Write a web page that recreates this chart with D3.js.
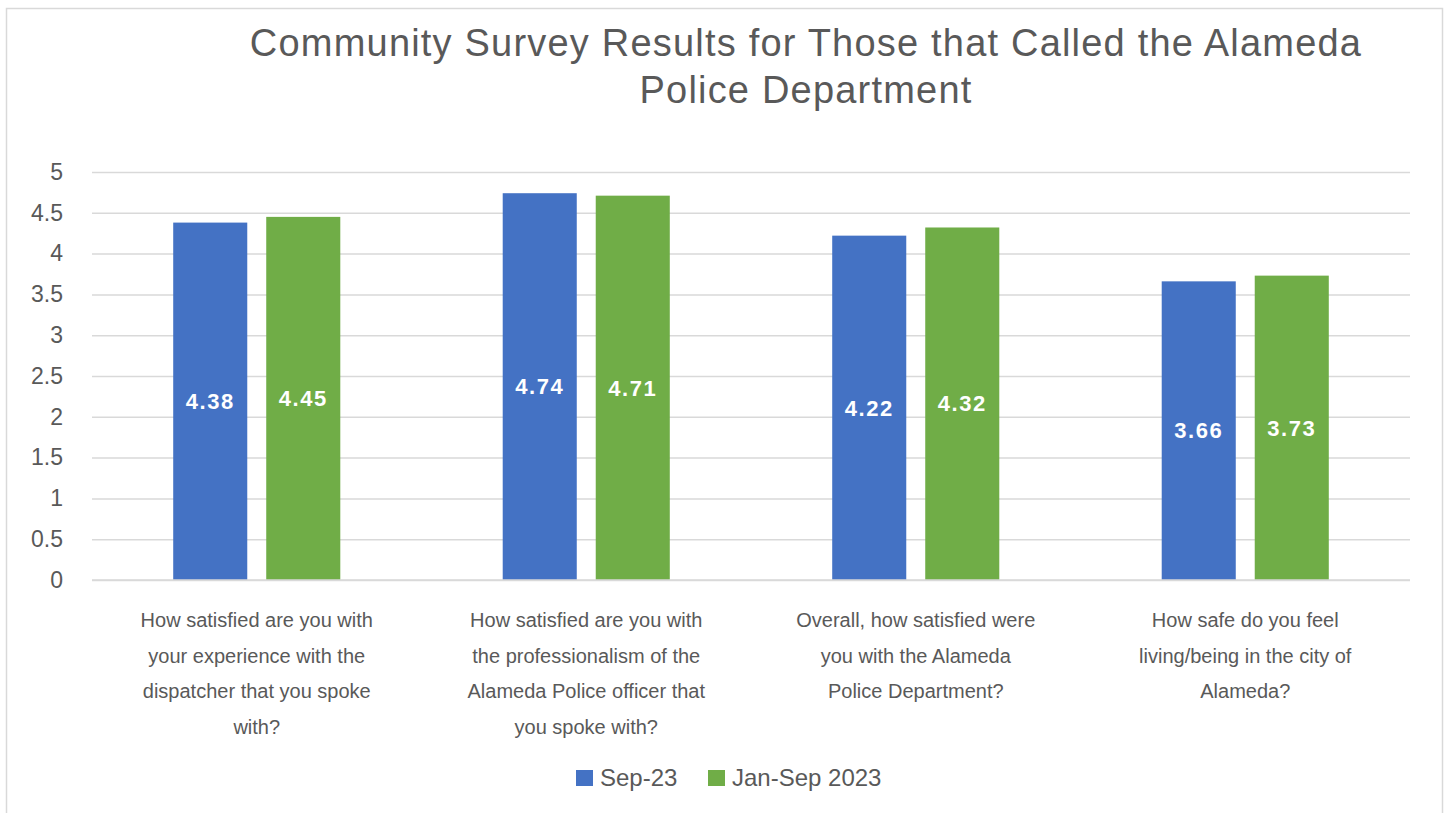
<!DOCTYPE html>
<head>
    <title>Community Survey Results</title>
    <meta charset="utf-8">
    <style>
        body { margin: 0; background: #fff; }
        svg text { font-family: "Liberation Sans", Arial, sans-serif; fill: #595959; }
    </style>
</head>
<body>
    <div id="chart"></div>
    <script src="https://d3js.org/d3.v7.min.js"></script>
    <script>
        // data
        var titleLines = ["Community Survey Results for Those that Called the Alameda", "Police Department"];
        var categories = ["q1", "q2", "q3", "q4"];
        var categoryLabels = [
            ["How satisfied are you with", "your experience with the", "dispatcher that you spoke", "with?"],
            ["How satisfied are you with", "the professionalism of the", "Alameda Police officer that", "you spoke with?"],
            ["Overall, how satisfied were", "you with the Alameda", "Police Department?"],
            ["How safe do you feel", "living/being in the city of", "Alameda?"]
        ];
        var seriesNames = ["Sep-23", "Jan-Sep 2023"];
        var sep23 = [4.38, 4.74, 4.22, 3.66];
        var janSep2023 = [4.45, 4.71, 4.32, 3.73];
        var yTicks = [0, 0.5, 1, 1.5, 2, 2.5, 3, 3.5, 4, 4.5, 5];
        var colors = ["#4472C4", "#70AD47"];

        var W = 1447, H = 813;
        var margin = {top: 172, right: 37, bottom: 233, left: 92},
            width = W - margin.left - margin.right,
            height = H - margin.top - margin.bottom;

        var svg = d3.select("#chart")
            .append("svg")
            .attr("width", W)
            .attr("height", H);

        // chart frame
        svg.append("rect")
            .attr("x", 6.5).attr("y", 8.5)
            .attr("width", 1436).attr("height", 820)
            .attr("fill", "none")
            .attr("stroke", "#D9D9D9")
            .attr("stroke-width", 1.5);

        // title
        svg.append("text")
            .attr("x", 806).attr("y", 56)
            .attr("text-anchor", "middle")
            .style("font-size", "38px")
            .style("letter-spacing", "1.2px")
            .selectAll("tspan")
            .data(titleLines)
            .enter()
            .append("tspan")
            .attr("x", 806)
            .attr("dy", (d, i) => i === 0 ? 0 : 47)
            .text(d => d);

        var g = svg.append("g")
            .attr("transform", "translate(" + margin.left + "," + margin.top + ")");

        var x0 = d3.scaleBand()
            .domain(categories)
            .range([0, width])
            .padding(0);

        var x1 = d3.scaleBand()
            .domain(seriesNames)
            .range([0, x0.bandwidth()])
            .paddingInner(0.204)
            .paddingOuter(0.873);

        var y = d3.scaleLinear()
            .domain([0, 5])
            .range([height, 0]);

        // gridlines
        g.append("g")
            .attr("class", "grid")
            .call(d3.axisLeft(y).tickValues(yTicks).tickSize(-width).tickFormat(""))
            .call(g => g.select(".domain").remove())
            .selectAll("line")
            .attr("stroke", "#D9D9D9")
            .attr("stroke-width", 1.5);

        // y axis labels
        var yAxis = g.append("g")
            .call(d3.axisLeft(y).tickValues(yTicks).tickSize(0).tickPadding(29).tickFormat(d3.format("")));
        yAxis.select(".domain").remove();
        yAxis.selectAll("text")
            .style("font-size", "23px")
            .attr("fill", "#595959");

        var rows = categories.map((c, i) => ({
            cat: c,
            values: [
                {series: seriesNames[0], value: sep23[i]},
                {series: seriesNames[1], value: janSep2023[i]}
            ]
        }));

        var groups = g.selectAll(".group")
            .data(rows)
            .enter()
            .append("g")
            .attr("class", "group")
            .attr("transform", d => "translate(" + x0(d.cat) + ",0)");

        groups.selectAll("rect")
            .data(d => d.values)
            .enter()
            .append("rect")
            .attr("x", d => x1(d.series))
            .attr("y", d => y(d.value))
            .attr("width", x1.bandwidth())
            .attr("height", d => height - y(d.value))
            .attr("fill", (d, i) => colors[i]);

        groups.selectAll(".val")
            .data(d => d.values)
            .enter()
            .append("text")
            .attr("class", "val")
            .attr("x", d => x1(d.series) + x1.bandwidth() / 2)
            .attr("y", d => (y(d.value) + height) / 2)
            .attr("dy", "0.35em")
            .attr("text-anchor", "middle")
            .style("font-size", "22px")
            .style("letter-spacing", "1.5px")
            .style("font-weight", "bold")
            .style("fill", "#fff")
            .text(d => d3.format(".2f")(d.value));

        // baseline
        g.append("line")
            .attr("x1", 0).attr("x2", width)
            .attr("y1", height).attr("y2", height)
            .attr("stroke", "#D9D9D9")
            .attr("stroke-width", 1.5);

        // category labels
        g.selectAll(".cat")
            .data(rows)
            .enter()
            .append("text")
            .attr("class", "cat")
            .attr("text-anchor", "middle")
            .style("font-size", "20px")
            .attr("transform", d => "translate(" + (x0(d.cat) + x0.bandwidth() / 2) + "," + (height + 47) + ")")
            .selectAll("tspan")
            .data((d, i) => categoryLabels[i])
            .enter()
            .append("tspan")
            .attr("x", 0)
            .attr("y", (d, i) => i * 35.5)
            .text(d => d);

        // legend
        var legend = svg.append("g")
            .attr("transform", "translate(576,770)");
        var legX = [0, 132];
        seriesNames.forEach(function(s, i) {
            var lg = legend.append("g").attr("transform", "translate(" + legX[i] + ",0)");
            lg.append("rect")
                .attr("width", 17).attr("height", 16)
                .attr("fill", colors[i]);
            lg.append("text")
                .attr("x", 24).attr("y", 8)
                .attr("dy", "0.35em")
                .style("font-size", "24px")
                .text(s);
        });
    </script>
</body>
</html>
